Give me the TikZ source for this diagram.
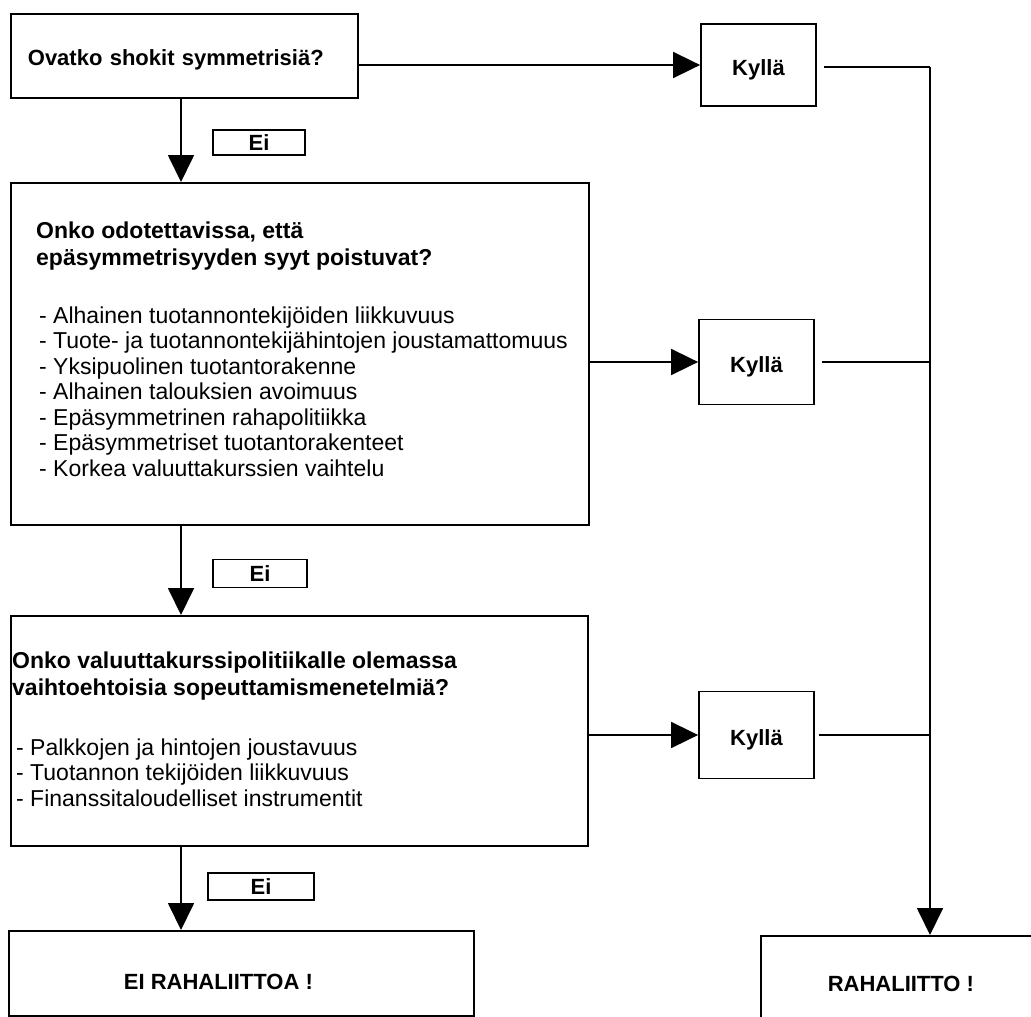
\documentclass[tikz,border=0pt]{standalone}
\usepackage{fontspec}
\setmainfont{Liberation Sans}
\usetikzlibrary{arrows.meta,calc}
\begin{document}
\begin{tikzpicture}[x=1pt,y=1pt,
  box/.style={draw, line width=1.8pt, rectangle, inner sep=0pt},
  lbl/.style={font=\fontsize{22}{24}\selectfont\bfseries},
  low/.style={text height=24pt, text depth=4pt},
  ttl/.style={font=\fontsize{23}{27.5}\selectfont\bfseries, align=left, inner sep=0pt},
  itm/.style={font=\fontsize{23}{25.5}\selectfont, align=left, inner sep=0pt},
  conn/.style={line width=1.8pt},
  arr/.style={line width=1.8pt, -{Triangle[length=27pt,width=26pt]}},
]
\useasboundingbox (0,0) rectangle (1031,-1017);
\clip (0,0) rectangle (1031,-1017);
\fill[white] (0,0) rectangle (1031,-1017);

% main question boxes
\node[box, lbl, low, anchor=north west, minimum height=84pt, text width=313pt, inner xsep=17pt, align=left] (q1) at (10,-13) {Ovatko shokit symmetrisiä?};
\node[box, anchor=north west, minimum width=578pt, minimum height=342pt] (q2) at (10,-182) {};
\node[box, anchor=north west, minimum width=577pt, minimum height=230pt] (q3) at (10,-615) {};
\node[box, anchor=north west, minimum width=465pt, minimum height=85pt,
  label={[lbl, xshift=-23pt, yshift=-9pt]center:EI RAHALIITTOA !}] (q4) at (8,-930) {};
\node[box, lbl, anchor=north west, minimum width=280pt, minimum height=96pt] (r) at (760,-935) {RAHALIITTO !};

% texts of the question boxes (base = baseline of the last line)
\node[ttl, anchor=base west] (t2) at (36,-265.5) {Onko odotettavissa, että\\epäsymmetrisyyden syyt poistuvat?};
\node[itm, anchor=base west] (i2) at (39,-476) {- Alhainen tuotannontekijöiden liikkuvuus\\- Tuote- ja tuotannontekijähintojen joustamattomuus\\- Yksipuolinen tuotantorakenne\\- Alhainen talouksien avoimuus\\- Epäsymmetrinen rahapolitiikka\\- Epäsymmetriset tuotantorakenteet\\- Korkea valuuttakurssien vaihtelu};
\node[ttl, anchor=base west] (t3) at (12,-695.5) {Onko valuuttakurssipolitiikalle olemassa\\vaihtoehtoisia sopeuttamismenetelmiä?};
\node[itm, anchor=base west] (i3) at (16,-806) {- Palkkojen ja hintojen joustavuus\\- Tuotannon tekijöiden liikkuvuus\\- Finanssitaloudelliset instrumentit};

% Kyllä boxes
\node[box, lbl, low, minimum width=115pt, minimum height=82pt] (k1) at (758.5,-65) {Kyllä};
\node[box, lbl, low, minimum width=115pt, minimum height=85pt] (k2) at (756.5,-362) {Kyllä};
\node[box, lbl, low, minimum width=115pt, minimum height=87pt] (k3) at (756.5,-735) {Kyllä};

% Ei boxes
\node[box, lbl, minimum width=92pt, minimum height=25pt] (e1) at (259,-142.5) {Ei};
\node[box, lbl, minimum width=94pt, minimum height=28pt] (e2) at (260,-573.5) {Ei};
\node[box, lbl, minimum width=106pt, minimum height=27pt] (e3) at (261,-886.5) {Ei};

% guide coordinates
\coordinate (spine) at (181,0);
\coordinate (rail) at (930,0);

% vertical "Ei" arrows
\draw[arr] (spine |- q1.south) -- (spine |- q2.north);
\draw[arr] (spine |- q2.south) -- (spine |- q3.north);
\draw[arr] (spine |- q3.south) -- (spine |- q4.north);

% "Kyllä" arrows
\draw[arr] (q1.east |- k1.west) -- (k1.west);
\draw[arr] (q2.east |- k2.west) -- (k2.west);
\draw[arr] (q3.east |- k3.west) -- (k3.west);

% right-hand collector
\draw[conn] ([xshift=7pt,yshift=-2pt]k1.east) -- ([yshift=-2pt]k1.east -| rail);
\draw[conn] ([xshift=7pt]k2.east) -- (k2.east -| rail);
\draw[conn] ([xshift=4pt]k3.east) -- (k3.east -| rail);
\draw[arr] ([yshift=-2pt]k1.east -| rail) -- (rail |- r.north);
\end{tikzpicture}
\end{document}
